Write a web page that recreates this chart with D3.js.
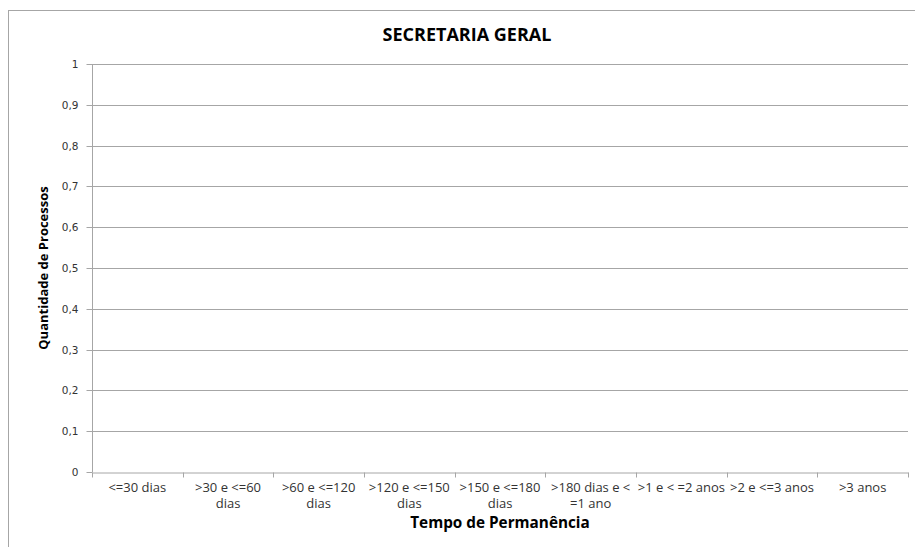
<!DOCTYPE html>
<html>
<head>
<meta charset="utf-8">
<script src="https://cdn.jsdelivr.net/npm/d3@7"></script>
<style>
  body { margin: 0; background: #fff; }
</style>
</head>
<body>
<div id="chart"></div>
<script>
let width = 915,
    height = 547;

let margin = {top: 64, right: 7, bottom: 75, left: 92};

// data
let categories = ["<=30 dias", ">30 e <=60 dias", ">60 e <=120 dias", ">120 e <=150 dias",
  ">150 e <=180 dias", ">180 dias e < =1 ano", ">1 e < =2 anos", ">2 e <=3 anos", ">3 anos"];
let values = [0, 0, 0, 0, 0, 0, 0, 0, 0];
let yTicks = [0, 0.1, 0.2, 0.3, 0.4, 0.5, 0.6, 0.7, 0.8, 0.9, 1];

let title = "SECRETARIA GERAL",
    xTitle = "Tempo de Permanência",
    yTitle = "Quantidade de Processos";

let labelFont = "'Open Sans', sans-serif";
let catSize = "13px";

let svg = d3.select("#chart")
  .append("svg")
    .attr("width", width)
    .attr("height", height);

// outer frame (runs off the picture on right and bottom)
svg.append("rect")
  .attr("x", 8.5)
  .attr("y", 10.5)
  .attr("width", 940)
  .attr("height", 600)
  .attr("fill", "none")
  .attr("stroke", "#a6a6a6");

let x = d3.scaleBand()
  .domain(categories)
  .range([margin.left, width - margin.right])
  .padding(0);

let y = d3.scaleLinear()
  .domain([0, 1])
  .range([height - margin.bottom, margin.top]);

let fmt = d => d3.format(".1~f")(d).replace(".", ",");

// gridlines
svg.append("g")
  .selectAll("line")
  .data(yTicks.filter(d => d > 0))
  .enter()
  .append("line")
    .attr("x1", margin.left)
    .attr("x2", width - margin.right)
    .attr("y1", d => Math.round(y(d)) + 0.5)
    .attr("y2", d => Math.round(y(d)) + 0.5)
    .attr("stroke", "#a6a6a6");

// bars (all zero)
svg.append("g")
  .selectAll("rect")
  .data(values)
  .enter()
  .append("rect")
    .attr("x", (d, i) => x(categories[i]) + x.bandwidth() * 0.2)
    .attr("width", x.bandwidth() * 0.6)
    .attr("y", d => y(d))
    .attr("height", d => y(0) - y(d))
    .attr("fill", "#4f81bd");

// y axis
let yAxis = svg.append("g")
  .attr("transform", `translate(${margin.left + 0.5},0)`)
  .call(d3.axisLeft(y).tickValues(yTicks).tickFormat(fmt).tickSize(6).tickPadding(8));
yAxis.select(".domain").attr("stroke", "#a6a6a6").attr("d", `M0,${y(1)}V${y(0)}`);
yAxis.selectAll(".tick line").attr("stroke", "#a6a6a6");
yAxis.selectAll(".tick")
  .attr("transform", d => `translate(0,${Math.round(y(d)) + 0.5})`);
yAxis.selectAll(".tick text")
  .style("font-family", "'DejaVu Sans', Verdana, sans-serif")
  .style("font-size", "10.5px")
  .attr("fill", "#333");

// x axis
let xAxis = svg.append("g")
  .attr("transform", `translate(0,${Math.round(y(0)) + 0.5})`)
  .call(d3.axisBottom(x).tickSize(0).tickPadding(0));
xAxis.select(".domain").attr("stroke", "#a6a6a6");
xAxis.selectAll(".tick text").remove();

// category ticks at band edges
xAxis.selectAll("line.edge")
  .data(categories.concat([null]))
  .enter()
  .append("line")
    .attr("class", "edge")
    .attr("x1", (d, i) => Math.round(margin.left + i * x.step()) + 0.5)
    .attr("x2", (d, i) => Math.round(margin.left + i * x.step()) + 0.5)
    .attr("y1", 0)
    .attr("y2", 5)
    .attr("stroke", "#a6a6a6");

// wrapped category labels
function wrap(text, maxW) {
  let words = text.split(" "), lines = [], line = "";
  let probe = svg.append("text")
    .style("font-family", labelFont)
    .style("font-size", catSize);
  words.forEach(w => {
    let t = line ? line + " " + w : w;
    probe.text(t);
    if (probe.node().getComputedTextLength() > maxW && line) {
      lines.push(line);
      line = w;
    } else {
      line = t;
    }
  });
  lines.push(line);
  probe.remove();
  return lines;
}

let labels = xAxis.selectAll("text.cat")
  .data(categories)
  .enter()
  .append("text")
    .attr("class", "cat")
    .attr("text-anchor", "middle")
    .attr("x", d => x(d) + x.bandwidth() / 2)
    .attr("y", 19)
    .style("font-family", labelFont)
    .style("font-size", catSize)
    .attr("fill", "#333");

labels.each(function(d) {
  let lines = wrap(d, x.bandwidth());
  d3.select(this).selectAll("tspan")
    .data(lines)
    .enter()
    .append("tspan")
      .attr("x", x(d) + x.bandwidth() / 2)
      .attr("dy", (l, i) => i === 0 ? 0 : 16)
      .text(l => l);
});

// titles
svg.append("text")
  .attr("x", 467)
  .attr("y", 41)
  .attr("text-anchor", "middle")
  .style("font-family", labelFont)
  .style("font-weight", "bold")
  .style("font-size", "18px")
  .text(title);

svg.append("text")
  .attr("x", (margin.left + width - margin.right) / 2)
  .attr("y", 528)
  .attr("text-anchor", "middle")
  .style("font-family", labelFont)
  .style("font-weight", "bold")
  .style("font-size", "15.3px")
  .text(xTitle);

svg.append("text")
  .attr("transform", `translate(48,${(y(0) + y(1)) / 2}) rotate(-90)`)
  .attr("text-anchor", "middle")
  .style("font-family", labelFont)
  .style("font-weight", "bold")
  .style("font-size", "13px")
  .text(yTitle);
</script>
</body>
</html>
